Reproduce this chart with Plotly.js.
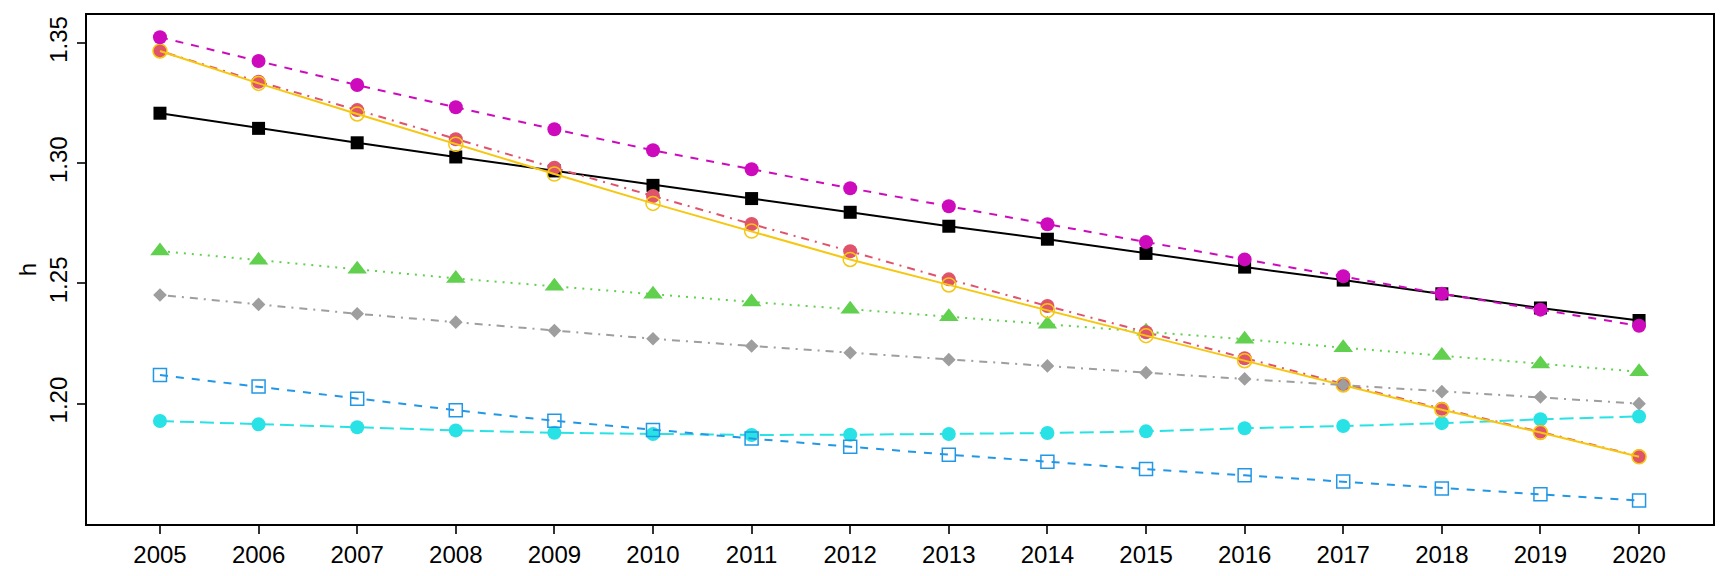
<!DOCTYPE html>
<html>
<head>
<meta charset="utf-8">
<script src="https://cdn.plot.ly/plotly-3.0.1.min.js"></script>
<style>html,body{margin:0;padding:0;background:#fff;} #chart{width:1728px;height:576px;}</style>
</head>
<body>
<div id="chart"></div>
<script>
const years = [2005,2006,2007,2008,2009,2010,2011,2012,2013,2014,2015,2016,2017,2018,2019,2020];
const yTickVals = [1.20, 1.25, 1.30, 1.35];
const yTickText = ["1.20", "1.25", "1.30", "1.35"];

const hBlack   = [1.3208,1.3145,1.3085,1.3026,1.2968,1.2908,1.2853,1.2796,1.2738,1.2684,1.2625,1.2568,1.2514,1.2457,1.2398,1.2346];
const hRed     = [1.3467,1.3339,1.3221,1.3100,1.2981,1.2864,1.2747,1.2634,1.2517,1.2406,1.2297,1.2189,1.2082,1.1979,1.1883,1.1781];
const hGreen   = [1.2635,1.2596,1.2559,1.2521,1.2488,1.2455,1.2423,1.2393,1.2362,1.2330,1.2301,1.2268,1.2233,1.2200,1.2165,1.2133];
const hBlue    = [1.2119,1.2071,1.2021,1.1973,1.1929,1.1891,1.1855,1.1821,1.1788,1.1759,1.1728,1.1702,1.1676,1.1647,1.1623,1.1597];
const hCyan    = [1.1928,1.1914,1.1902,1.1889,1.1879,1.1874,1.1870,1.1871,1.1874,1.1878,1.1885,1.1898,1.1907,1.1919,1.1935,1.1947];
const hMagenta = [1.3524,1.3425,1.3325,1.3233,1.3141,1.3054,1.2975,1.2896,1.2821,1.2746,1.2672,1.2600,1.2530,1.2457,1.2391,1.2324];
const hYellow  = [1.3467,1.3332,1.3205,1.3079,1.2955,1.2833,1.2718,1.2600,1.2494,1.2387,1.2283,1.2179,1.2078,1.1975,1.1880,1.1779];
const hGray    = [1.2452,1.2413,1.2374,1.2339,1.2304,1.2270,1.2240,1.2212,1.2183,1.2157,1.2129,1.2103,1.2078,1.2050,1.2028,1.2000];

function tr(y, color, dash, symbol, size, open) {
  return {
    x: years, y: y, type: 'scatter', mode: 'lines+markers', showlegend: false,
    line: {color: color, width: 2, dash: dash},
    marker: open
      ? {symbol: symbol, size: size, color: color, line: {color: color, width: 1.5}}
      : {symbol: symbol, size: size, color: color, line: {width: 0}}
  };
}

const data = [
  tr(hBlack,   '#000000', 'solid', 'square', 13, false),
  tr(hGreen,   '#61D04F', '2px,6px', 'triangle-up', 17, false),
  tr(hCyan,    '#28E2E5', '14px,6px', 'circle', 14, false),
  tr(hBlue,    '#2297E6', '8px,8px', 'square-open', 13, true),
  tr(hRed,     '#DF536B', '2px,6px,8px,6px', 'circle', 14, false),
  tr(hYellow,  '#F5C710', 'solid', 'circle-open', 14, true),
  tr(hGray,    '#9E9E9E', '2px,6px,8px,6px', 'diamond', 10.5, false),
  tr(hMagenta, '#CD0BBC', '8px,8px', 'circle', 14, false)
];

const FAM = 'Liberation Sans, Arial, sans-serif';

const layout = {
  width: 1728, height: 576,
  margin: {l: 87, r: 15, t: 15, b: 52},
  paper_bgcolor: '#fff', plot_bgcolor: '#fff',
  font: {family: FAM, size: 24, color: '#000'},
  xaxis: {
    range: [2004.26, 2020.75],
    tickvals: years, ticktext: years.map(String),
    ticks: 'outside', ticklen: 8, tickwidth: 2, tickcolor: '#333',
    showgrid: false, zeroline: false,
    showline: true, linecolor: '#000', linewidth: 2, mirror: true,
    tickfont: {family: FAM, size: 24, color: '#000'}
  },
  yaxis: {
    range: [1.14997, 1.36164],
    tickvals: yTickVals, ticktext: yTickText,
    tickangle: -90,
    ticks: 'outside', ticklen: 8, tickwidth: 2, tickcolor: '#333',
    showgrid: false, zeroline: false,
    showline: true, linecolor: '#000', linewidth: 2, mirror: true,
    tickfont: {family: FAM, size: 24, color: '#000'},
    title: {text: 'h', font: {family: FAM, size: 24, color: '#000'}, standoff: 2}
  }
};

Plotly.newPlot('chart', data, layout, {displayModeBar: false, staticPlot: true});
</script>
</body>
</html>
